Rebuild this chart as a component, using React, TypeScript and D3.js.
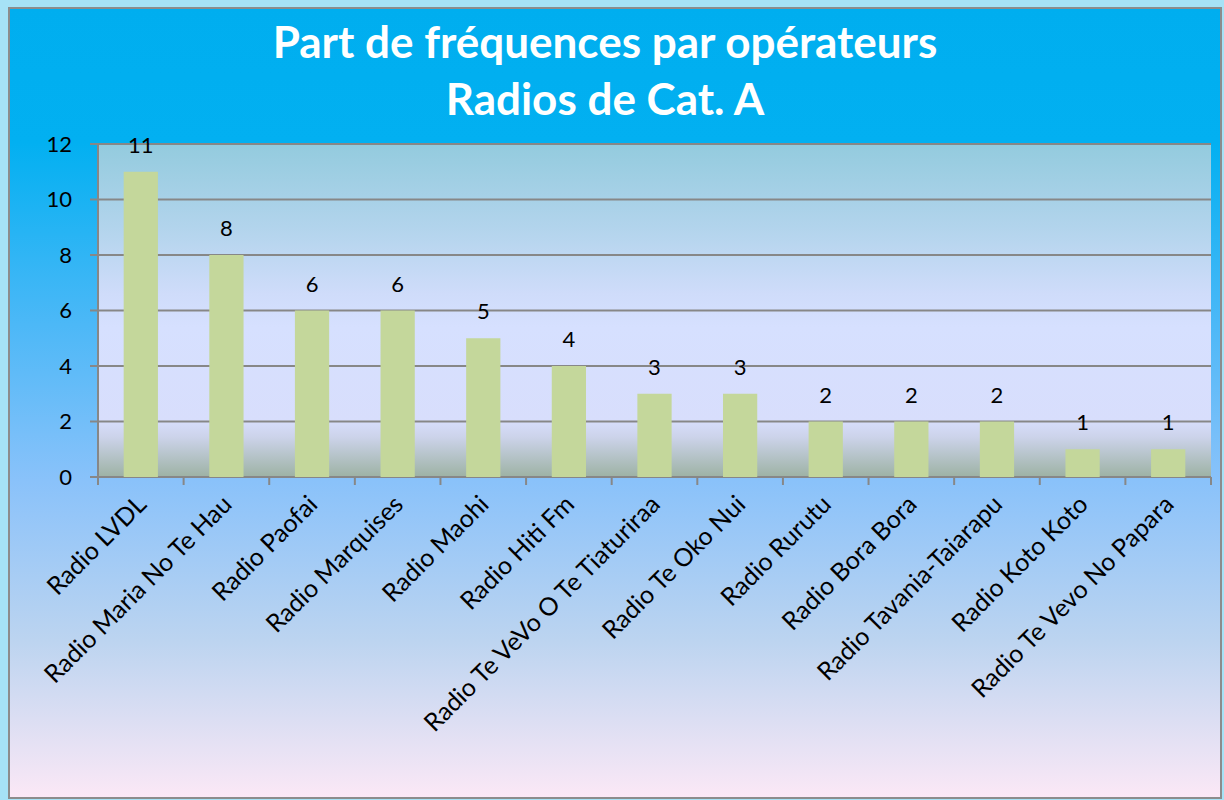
import React from 'react';
import * as d3 from 'd3';

const operators = [
  'Radio LVDL',
  'Radio Maria No Te Hau',
  'Radio Paofai',
  'Radio Marquises',
  'Radio Maohi',
  'Radio Hiti Fm',
  'Radio Te VeVo O Te Tiaturiraa',
  'Radio Te Oko Nui',
  'Radio Rurutu',
  'Radio Bora Bora',
  'Radio Tavania-Taiarapu',
  'Radio Koto Koto',
  'Radio Te Vevo No Papara',
];
const frequencies = [11, 8, 6, 6, 5, 4, 3, 3, 2, 2, 2, 1, 1];
const yTicks = [0, 2, 4, 6, 8, 10, 12];
const titleLines = ['Part de fréquences par opérateurs', 'Radios de Cat. A'];

const W = 1224;
const H = 800;
const plot = { left: 98, right: 1211, top: 144, bottom: 477 };
const font = 'Lato, "Open Sans", sans-serif';

const App: React.FC = () => {
  const x = d3
    .scaleBand<string>()
    .domain(operators)
    .range([plot.left, plot.right])
    .paddingInner(0.6)
    .paddingOuter(0.3);
  const y = d3.scaleLinear().domain([0, 12]).range([plot.bottom, plot.top]);

  // category boundaries for the tick marks
  const catW = (plot.right - plot.left) / operators.length;
  const boundaries = d3.range(operators.length + 1).map(i => plot.left + i * catW);

  return (
    <div style={{ position: 'fixed', left: 0, top: 0 }}>
      <svg width={W} height={H} style={{ display: 'block' }}>
        <defs>
          <linearGradient id="bg" x1="0" y1="0" x2="0" y2="1">
            <stop offset="0%" stopColor="#00aeef" />
            <stop offset="17%" stopColor="#02b0f1" />
            <stop offset="40%" stopColor="#4cb8f7" />
            <stop offset="60%" stopColor="#8ac2fa" />
            <stop offset="80%" stopColor="#bcd4f0" />
            <stop offset="100%" stopColor="#fbe8f6" />
          </linearGradient>
          <linearGradient id="plotbg" x1="0" y1="0" x2="0" y2="1">
            <stop offset="0%" stopColor="#93cbde" />
            <stop offset="25%" stopColor="#b2d4ec" />
            <stop offset="45%" stopColor="#cfdcfa" />
            <stop offset="55%" stopColor="#d6e0ff" />
            <stop offset="83%" stopColor="#d8defc" />
            <stop offset="88%" stopColor="#ccd3ea" />
            <stop offset="100%" stopColor="#9db2a4" />
          </linearGradient>
        </defs>

        <rect x={0} y={0} width={W} height={H} fill="#a6e2f6" />
        <rect x={9} y={8} width={1212} height={790} fill="url(#bg)" stroke="#8c8c8c" strokeWidth={2} />

        {titleLines.map((t, i) => (
          <text
            key={t}
            x={605}
            y={58 + i * 57}
            textAnchor="middle"
            fill="#ffffff"
            fontFamily={font}
            fontWeight={700}
            fontSize={44}
          >
            {t}
          </text>
        ))}

        <rect x={plot.left} y={plot.top} width={plot.right - plot.left} height={plot.bottom - plot.top} fill="url(#plotbg)" />

        {yTicks.map(t => (
          <g key={t}>
            <line x1={plot.left - 8} x2={plot.right} y1={y(t)} y2={y(t)} stroke="#878787" strokeWidth={2} />
            <text x={72} y={y(t)} dy="0.35em" textAnchor="end" fontFamily={font} fontSize={22} fill="#000">
              {t}
            </text>
          </g>
        ))}

        <line x1={plot.left} x2={plot.left} y1={plot.top} y2={plot.bottom} stroke="#878787" strokeWidth={2} />
        {boundaries.map((b, i) => (
          <line key={i} x1={b} x2={b} y1={plot.bottom} y2={plot.bottom + 8} stroke="#878787" strokeWidth={2} />
        ))}

        {operators.map((op, i) => {
          const bx = x(op) as number;
          const v = frequencies[i];
          return (
            <g key={op}>
              <rect x={bx} y={y(v)} width={x.bandwidth()} height={plot.bottom - y(v)} fill="#c4d79b" />
              <text
                x={bx + x.bandwidth() / 2}
                y={y(v) - 19}
                textAnchor="middle"
                fontFamily={font}
                fontSize={22}
                fill="#000"
              >
                {v}
              </text>
              <text
                transform={`translate(${bx + x.bandwidth() / 2 + 7}, ${plot.bottom + 29}) rotate(-45)`}
                textAnchor="end"
                fontFamily={font}
                fontSize={25}
                fill="#000"
              >
                {op}
              </text>
            </g>
          );
        })}
      </svg>
    </div>
  );
};

export default App;
